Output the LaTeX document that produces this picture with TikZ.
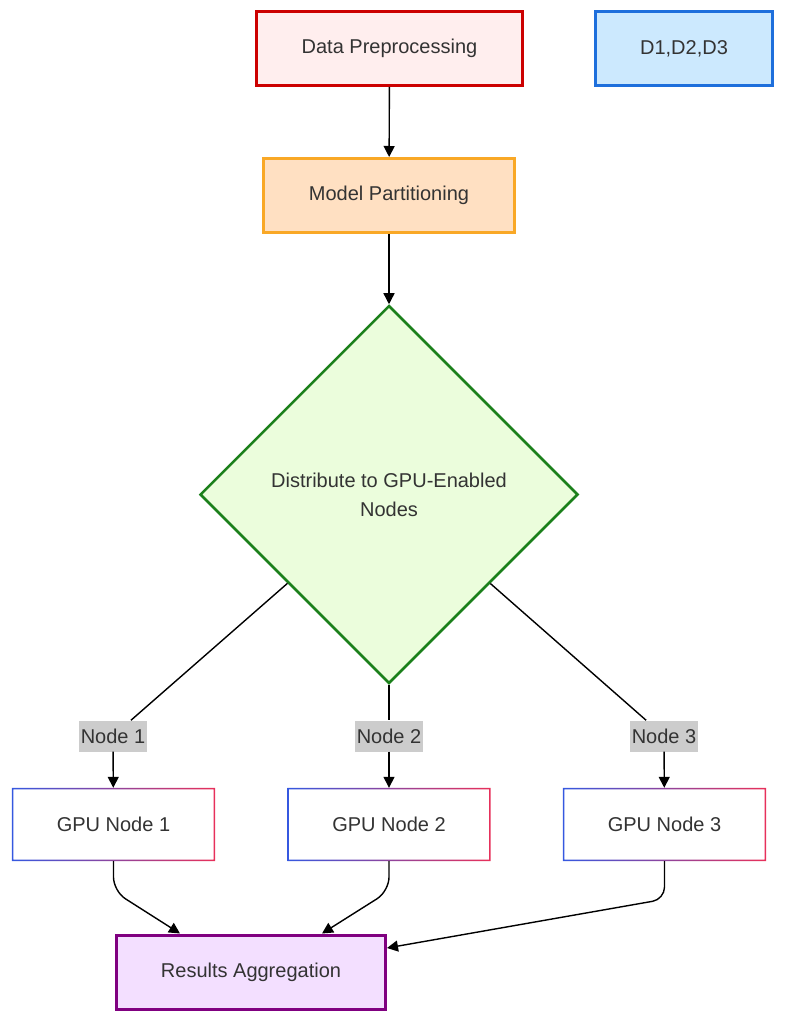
\documentclass[tikz,border=0pt]{standalone}
\usepackage{fontspec}
\setmainfont{Liberation Sans}
\usetikzlibrary{shapes.geometric,arrows.meta}
\definecolor{txt}{HTML}{333333}
\definecolor{dpborder}{HTML}{CC0000}
\definecolor{dpfill}{HTML}{FFEEEE}
\definecolor{dborder}{HTML}{1E6FDC}
\definecolor{dfill}{HTML}{CCE9FE}
\definecolor{mpborder}{HTML}{F9A826}
\definecolor{mpfill}{HTML}{FFE0C2}
\definecolor{diborder}{HTML}{1B801B}
\definecolor{difill}{HTML}{EBFDDC}
\definecolor{raborder}{HTML}{800080}
\definecolor{rafill}{HTML}{F3DFFF}
\definecolor{lblfill}{HTML}{CCCCCC}
\definecolor{gblue}{HTML}{3558E0}
\definecolor{gred}{HTML}{E8305A}
\begin{document}
\begin{tikzpicture}[x=1pt,y=-1pt,
  font=\fontsize{20}{29}\selectfont,
  box/.style={rectangle, line width=3pt, text=txt, minimum height=74pt, inner sep=0pt},
  gpubox/.style={rectangle, fill=white, text=txt, minimum width=203pt, minimum height=73pt, inner sep=0pt},
  lbl/.style={rectangle, fill=lblfill, text=txt, minimum height=31pt, inner xsep=1.5pt, inner ysep=0pt},
  edge/.style={draw=black, line width=1.4pt, -{Triangle[length=11pt,width=11pt]}},
  plain/.style={draw=black, line width=1.4pt}]
\useasboundingbox (0,0) rectangle (786,1024);

\node[box, draw=dpborder, fill=dpfill, minimum width=266pt] (dp) at (389.5,48.5) {Data Preprocessing};
\node[box, draw=dborder, fill=dfill, minimum width=177pt] (d) at (684,48.5) {D1,D2,D3};
\node[box, draw=mpborder, fill=mpfill, minimum width=251pt] (mp) at (389,195.5) {Model Partitioning};
\node[diamond, aspect=1, minimum width=378pt, minimum height=378pt, inner sep=0pt,
      draw=diborder, fill=difill, line width=2.5pt, text=txt, align=center] (dist) at (389,494.5)
      {Distribute to GPU-Enabled\\Nodes};

\node[lbl] (l1) at (113,736) {Node 1};
\node[lbl] (l2) at (389,736) {Node 2};
\node[lbl] (l3) at (664,736) {Node 3};

\node[gpubox] (g1) at (113.5,824.5) {GPU Node 1};
\node[gpubox] (g2) at (389,824.5) {GPU Node 2};
\node[gpubox] (g3) at (664.5,824.5) {GPU Node 3};
\foreach \g in {g1,g2,g3}{
  \shade[left color=gblue, right color=gred, even odd rule]
    (\g.south west) rectangle (\g.north east)
    ([xshift=1.6pt,yshift=1.6pt]\g.south west) rectangle ([xshift=-1.6pt,yshift=-1.6pt]\g.north east);
}

\node[box, draw=raborder, fill=rafill, minimum width=269pt] (ra) at (251,972) {Results Aggregation};

\draw[edge] (dp) -- (mp);
\draw[edge] (mp) -- (dist);
\draw[plain] (dist) -- (l1);
\draw[plain] (dist) -- (l2);
\draw[plain] (dist) -- (l3);
\draw[edge] (l1) -- (g1);
\draw[edge] (l2) -- (g2);
\draw[edge] (l3) -- (g3);
\draw[edge, rounded corners=14pt] (g1.south) -- ++(0,30) -- ([xshift=-71pt]ra.north);
\draw[edge, rounded corners=14pt] (g2.south) -- ++(0,30) -- ([xshift=71pt]ra.north);
\draw[edge, rounded corners=12pt] (g3.south) -- ++(0,38) -- ([yshift=24pt]ra.east);
\end{tikzpicture}
\end{document}
